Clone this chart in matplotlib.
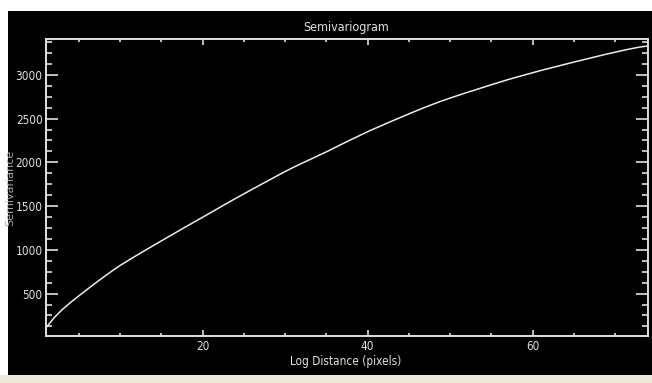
import matplotlib
matplotlib.use("Agg")
import matplotlib.pyplot as plt
from matplotlib.ticker import MultipleLocator
from matplotlib.patches import Rectangle

# Data
lag = list(range(1, 75))
semivariance = [110, 225, 320, 400, 475, 548, 620, 690, 758, 822,
                880, 937, 993, 1048, 1103, 1157, 1212, 1266, 1320, 1373,
                1427, 1481, 1535, 1588, 1640, 1692, 1743, 1794, 1845, 1895,
                1943, 1988, 2032, 2076, 2120, 2167, 2214, 2260, 2305, 2350,
                2392, 2433, 2474, 2514, 2554, 2593, 2631, 2667, 2702, 2735,
                2766, 2797, 2827, 2857, 2887, 2916, 2945, 2972, 2998, 3024,
                3050, 3074, 3098, 3122, 3146, 3169, 3192, 3215, 3238, 3259,
                3280, 3300, 3318, 3330]
title = "Semivariogram"
xlabel = "Log Distance (pixels)"
ylabel = "Semivariance"

W, H = 652, 383
fig = plt.figure(figsize=(W / 100, H / 100), dpi=100)
fig.patch.set_facecolor("white")
# black panel and beige strip
fig.patches.append(Rectangle((8 / W, 8 / H), 644 / W, 364 / H, transform=fig.transFigure,
                             facecolor="black", edgecolor="none", zorder=-5))
fig.patches.append(Rectangle((0, 0), 1, 8 / H, transform=fig.transFigure,
                             facecolor="#ece9d8", edgecolor="none", zorder=-5))

ax = fig.add_axes([46 / W, 47 / H, 602 / W, 297 / H])
ax.set_zorder(5)
ax.set_facecolor("black")
fc = "#e0e0e0"
ax.plot(lag, semivariance, color="#ececec", lw=1.1)
ax.set_xlim(1, 74)
ax.set_ylim(15, 3410)

for s in ax.spines.values():
    s.set_color(fc)
    s.set_linewidth(1.4)

ax.xaxis.set_major_locator(MultipleLocator(20))
ax.xaxis.set_minor_locator(MultipleLocator(5))
ax.yaxis.set_major_locator(MultipleLocator(500))
ax.yaxis.set_minor_locator(MultipleLocator(125))

fam = ["DejaVu Sans"]
ax.tick_params(axis="both", which="both", direction="in", colors=fc,
               top=True, right=True, labelcolor=fc, width=1.2)
ax.tick_params(axis="x", which="major", length=4.5, pad=3)
ax.tick_params(axis="x", which="minor", length=2.2)
ax.tick_params(axis="y", which="major", length=8.6, pad=2.5)
ax.tick_params(axis="y", which="minor", length=4.3)
for lab in ax.get_xticklabels() + ax.get_yticklabels():
    lab.set_fontfamily(fam)
    lab.set_fontsize(8.5)
    lab.set_fontstretch("condensed")

fig.text(346 / W, 1 - 27 / H, title, color=fc, ha="center", va="center",
         family=fam, fontsize=9, fontstretch="condensed")
fig.text(346 / W, 1 - 361 / H, xlabel, color=fc, ha="center", va="center",
         family=fam, fontsize=8.5, fontstretch="condensed")
fig.text(10.5 / W, 1 - 188 / H, ylabel, color="#a8a8a8", ha="center", va="center",
         rotation=90, family="DejaVu Sans", fontsize=8)

fig.savefig("out.png", dpi=100, facecolor=fig.get_facecolor())
